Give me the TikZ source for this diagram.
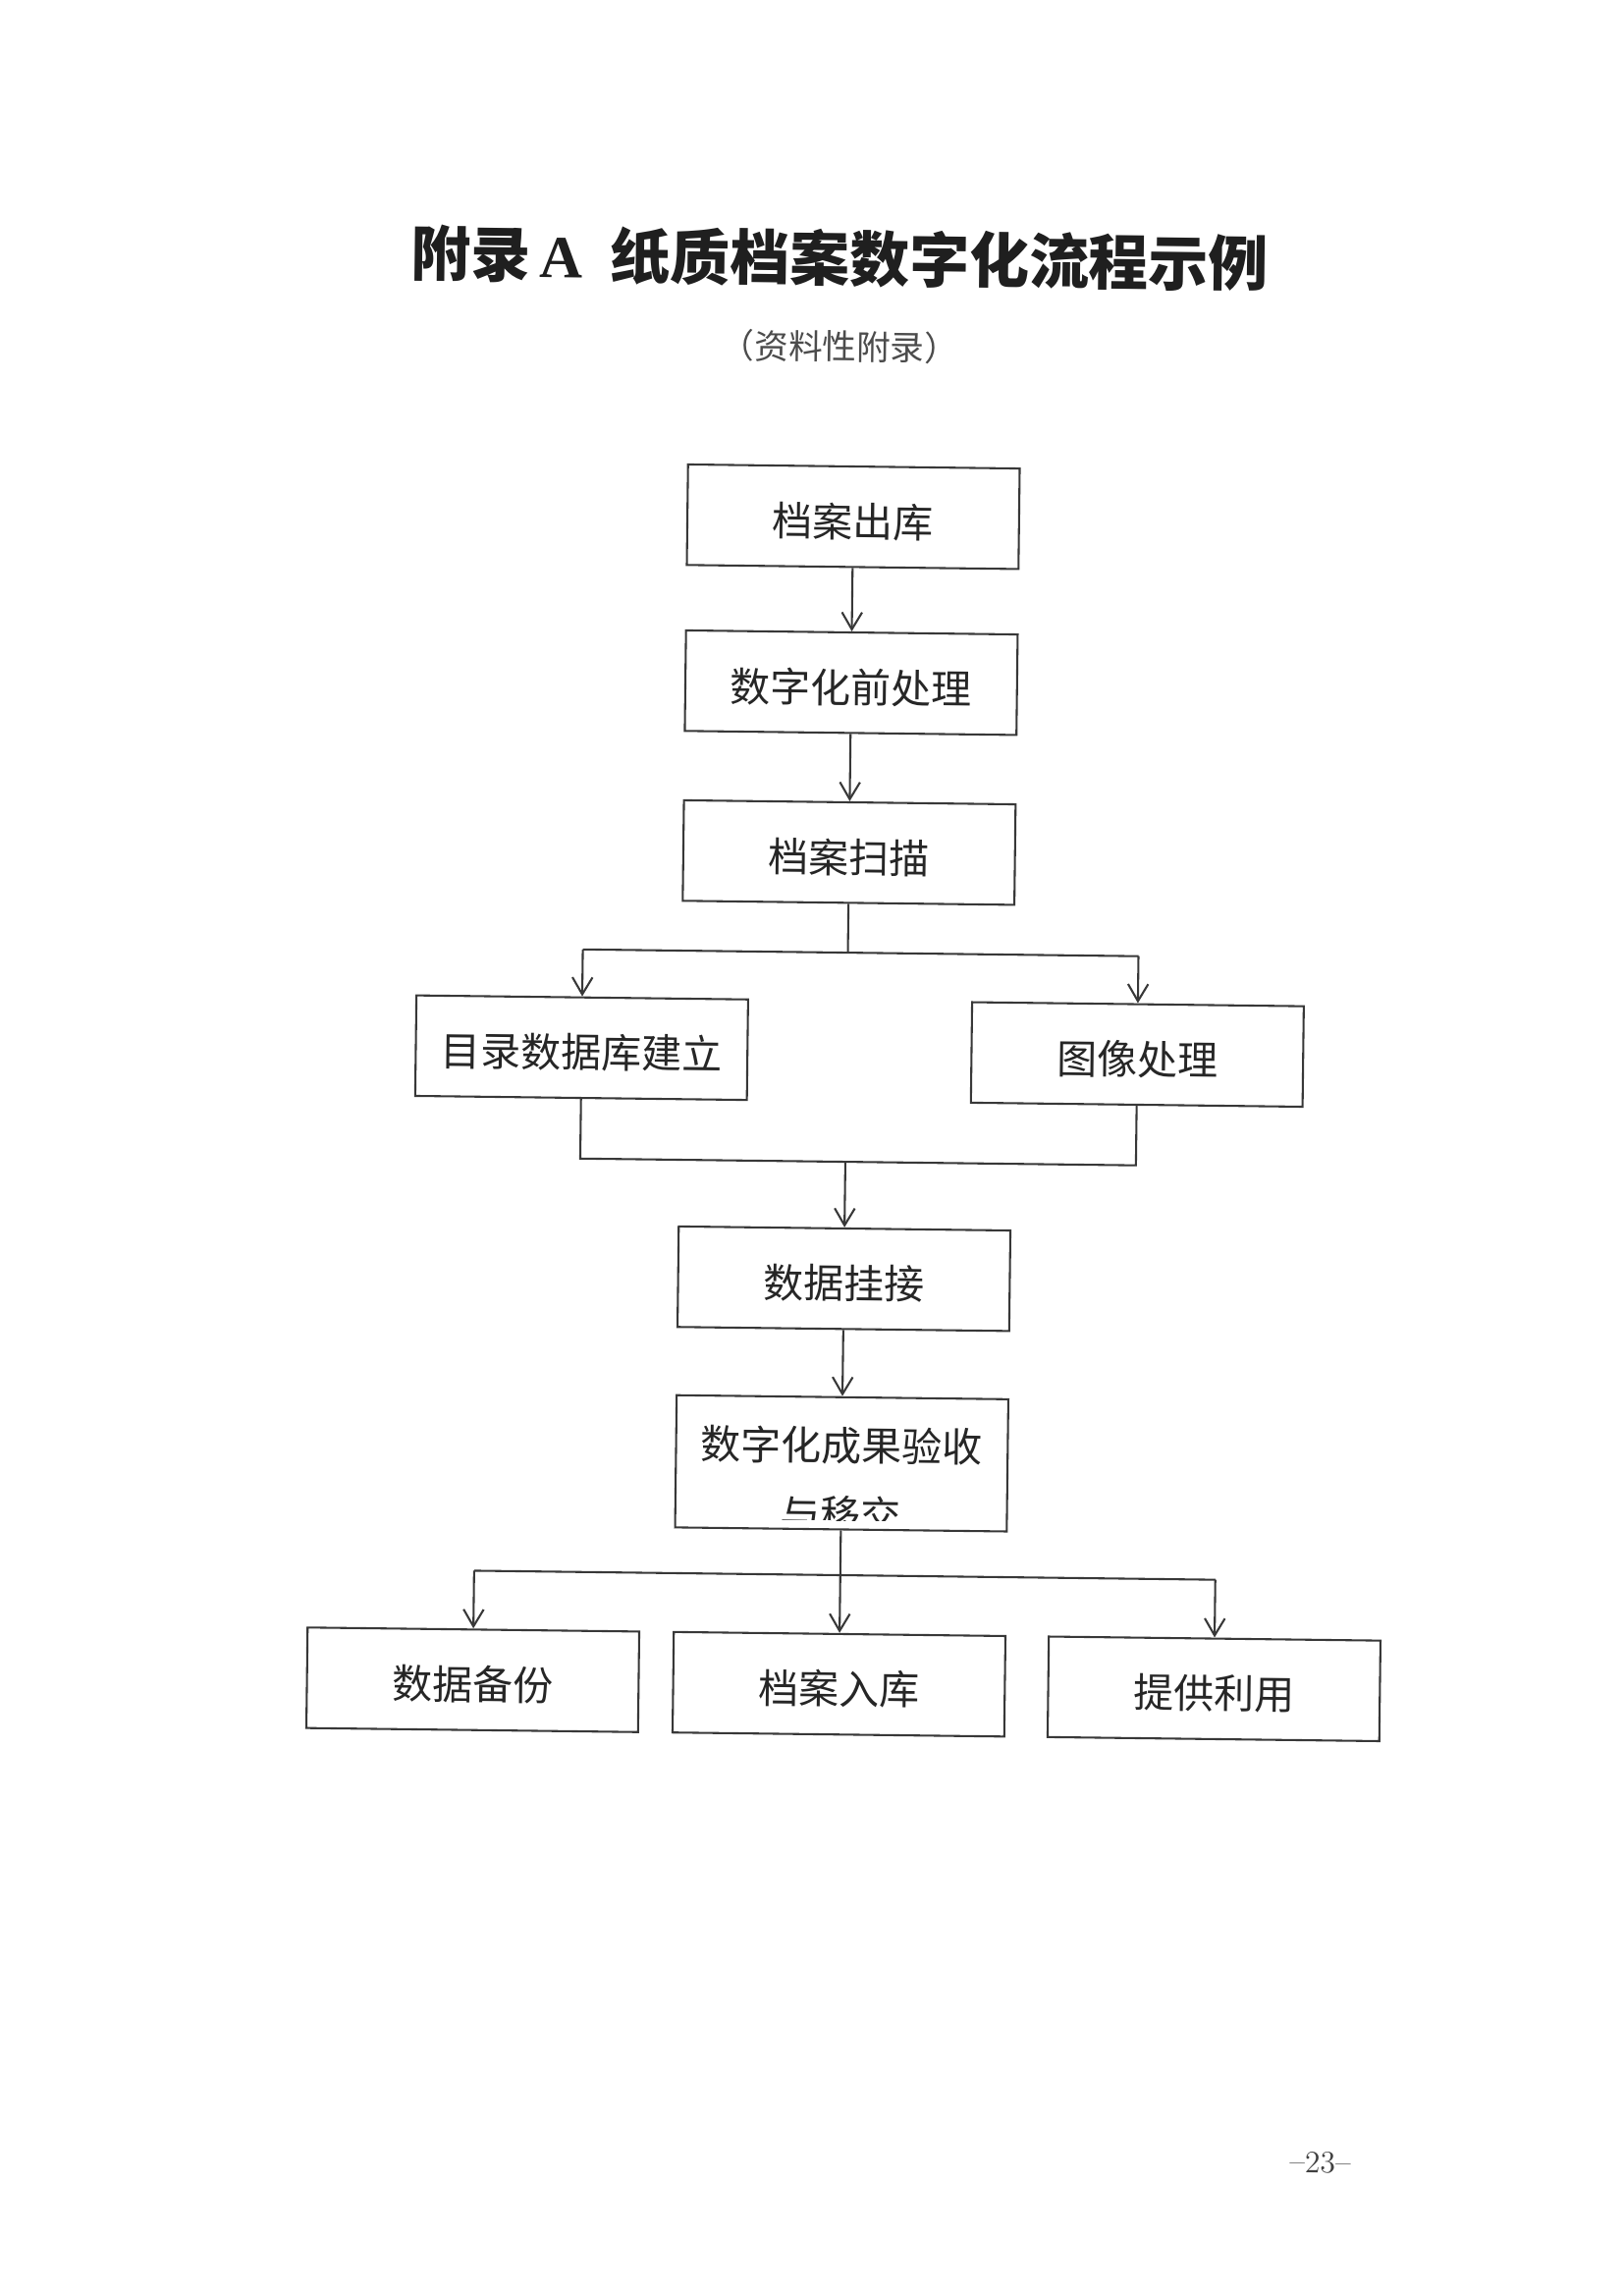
\documentclass[tikz,border=0pt]{standalone}
\usepackage{fontspec}
\newfontfamily\cjk{Noto Sans CJK SC}
\newfontfamily\lserif{Liberation Serif}
\usetikzlibrary{arrows.meta}
\newcommand{\btxt}[1]{\raisebox{-0.6mm}[\height][\depth]{#1}}
\begin{document}
\begin{tikzpicture}[x=0.127mm,y=-0.127mm,
  box/.style={draw=black!78, line width=0.75pt, minimum width=42.9mm, minimum height=13mm, inner sep=0pt, font=\fontsize{14.8}{18}\cjk, text=black!85},
  arr/.style={draw=black!78, line width=0.75pt, -{Straight Barb[length=2.2mm,width=2.6mm]}},
  ln/.style={draw=black!78, line width=0.75pt}]
\useasboundingbox[fill=white] (0,0) rectangle (1653,2336);
\begin{scope}[rotate around={-0.7:(850,1100)}, transform shape]
% title
\node[font=\fontsize{22}{26}\cjk\bfseries, text=black!88, inner sep=0pt] (title) at (845,263) {附录\hspace{1.2mm}{\lserif\bfseries A}\hspace{3.6mm}纸质档案数字化流程示例};
\node[font=\fontsize{12.5}{15}\cjk, text=black!70, inner sep=0pt] (sub) at (846,353) {（资料性附录）};
% main column
\node[box] (b1) at (862,526) {\btxt{档案出库}};
\node[box] (b2) at (862,695) {\btxt{数字化前处理}};
\node[box] (b3) at (862,868) {\btxt{档案扫描}};
\node[box] (bl) at (592,1070) {\btxt{目录数据库建立}};
\node[box] (br) at (1158,1070) {\btxt{图像处理}};
\node[box] (b6) at (862,1302) {\btxt{数据挂接}};
\node[box, minimum height=17.1mm] (b7) at (862,1490) {};
\node[font=\fontsize{14.8}{18}\cjk, text=black!85, inner sep=0pt] (b7a) at (862,1472) {数字化成果验收};
\begin{scope}
\clip (b7.north west) rectangle ([yshift=1.3mm]b7.south east);
\node[font=\fontsize{14.8}{18}\cjk, text=black!85, inner sep=0pt] (b7b) at (862,1542) {与移交};
\end{scope}
\node[box] (b8) at (489,1715) {\btxt{数据备份}};
\node[box] (b9) at (862,1715) {\btxt{档案入库}};
\node[box] (b10) at (1244,1715) {\btxt{提供利用}};
% junction coordinates
\coordinate (j1) at (862,970);
\coordinate (j1l) at (592,970);
\coordinate (j1r) at (1158,970);
\coordinate (m1) at (862,1183);
\coordinate (m1l) at (592,1183);
\coordinate (m1r) at (1158,1183);
\coordinate (j2) at (862,1604);
\coordinate (j2l) at (489,1604);
\coordinate (j2r) at (1244,1604);
% connectors
\draw[arr] (b1.south) -- (b2.north);
\draw[arr] (b2.south) -- (b3.north);
\draw[ln] (b3.south) -- (j1);
\draw[ln] (j1l) -- (j1r);
\draw[arr] (j1l) -- (bl.north);
\draw[arr] (j1r) -- (br.north);
\draw[ln] (bl.south) -- (m1l) -- (m1r) -- (br.south);
\draw[arr] (m1) -- (b6.north);
\draw[arr] (b6.south) -- (b7.north);
\draw[ln] (b7.south) -- (j2);
\draw[ln] (j2l) -- (j2r);
\draw[arr] (j2l) -- (b8.north);
\draw[arr] (j2) -- (b9.north);
\draw[arr] (j2r) -- (b10.north);
% page number
\node[font=\fontsize{11.5}{14}\selectfont, text=black!75, inner sep=0pt] (pg) at (1358,2196) {--23--};
\end{scope}
\end{tikzpicture}
\end{document}
